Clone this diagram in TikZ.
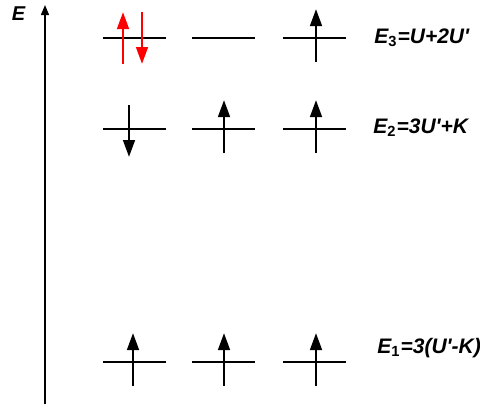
\documentclass[tikz,border=0pt]{standalone}
\usepackage{fontspec}
\setmainfont{Liberation Sans}
\usetikzlibrary{arrows.meta}
\newcommand{\pr}{\textquotesingle}
\tikzset{
  lvl/.style={minimum width=31.5pt,inner sep=0pt,outer sep=0pt},
  lvlline/.style={line width=1.15pt},
  spin/.style={line width=1.35pt,-{Triangle[length=8.5pt,width=5.8pt]}},
  elabel/.style={anchor=west,inner sep=0pt,font=\fontsize{10.5}{12}\selectfont\bfseries\itshape}
}

\begin{document}
\begin{tikzpicture}[x=0.5pt,y=-0.5pt]
	\useasboundingbox (0,0) rectangle (480,409);
	% energy axis
	\coordinate (axbot) at (45,404);
	\coordinate (axtop) at (45,5);
	\draw[line width=0.65pt,-{Triangle[length=5pt,width=4pt]}] (axbot) -- (axtop);
	\node[font=\fontsize{10}{12}\selectfont\bfseries\itshape] (elab) at (18.5,13.5) {E};
	% levels
	\node[lvl] (t1) at (134.5,38) {};
	\node[lvl] (t2) at (223.5,38) {};
	\node[lvl] (t3) at (314.5,38) {};
	\node[lvl] (m1) at (134.5,129) {};
	\node[lvl] (m2) at (223.5,129) {};
	\node[lvl] (m3) at (314.5,129) {};
	\node[lvl] (b1) at (134.5,362) {};
	\node[lvl] (b2) at (223.5,362) {};
	\node[lvl] (b3) at (314.5,362) {};
	\foreach \n in {t1,t2,t3,m1,m2,m3,b1,b2,b3}
		\draw[lvlline] (\n.west) -- (\n.east);
	% spins, E3
	\draw[spin,red] (123,64) -- (123,12);
	\draw[spin,red] (142,12) -- (142,64);
	\draw[spin] (316,62) -- (316,9);
	% spins, E2
	\draw[spin] (129,105) -- (129,157);
	\draw[spin] (224,153) -- (224,100);
	\draw[spin] (316,153) -- (316,100);
	% spins, E1
	\draw[spin] (133,386) -- (133,333);
	\draw[spin] (224,386) -- (224,333);
	\draw[spin] (316,386) -- (316,333);
	% energies
	\node[elabel] (e3) at (374,38) {E\textsubscript{\upshape 3}=U+2U\pr};
	\node[elabel] (e2) at (373,128) {E\textsubscript{\upshape 2}=3U\pr+K};
	\node[elabel] (e1) at (377,348) {E\textsubscript{\upshape 1}=3(U\pr-K)};
\end{tikzpicture}
\end{document}
